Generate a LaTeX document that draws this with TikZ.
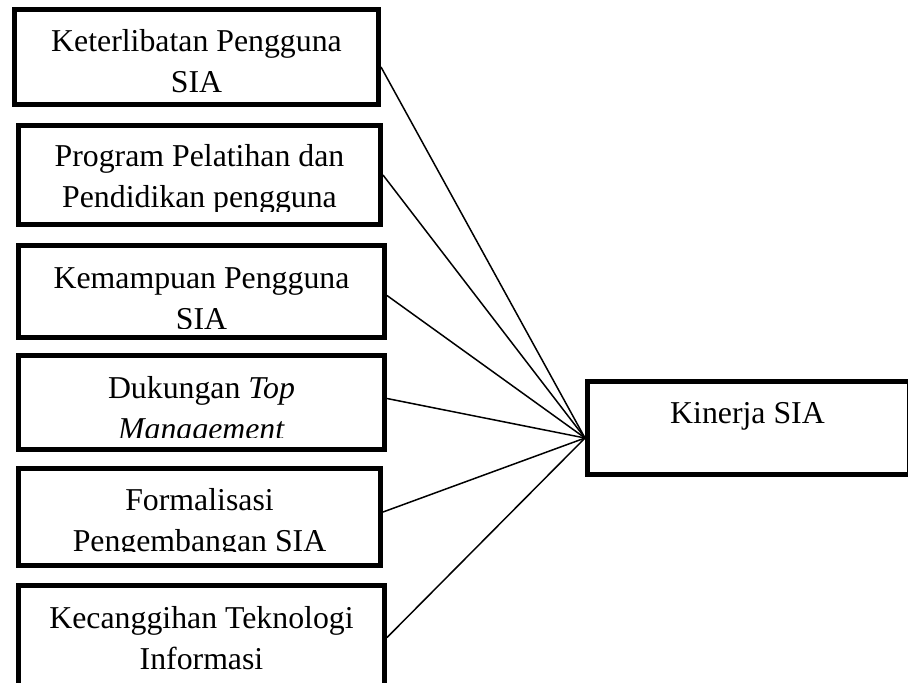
\documentclass[tikz,border=0pt]{standalone}
\usepackage{fontspec}
\setmainfont{Liberation Serif}
\usepackage{tikz}
\usetikzlibrary{positioning,calc}
\tikzset{
  kbox/.style={rectangle,draw=black,line width=2.5pt,inner sep=0pt},
  klbl/.style={align=center,anchor=base,inner sep=0pt,
               font=\fontsize{15.9}{20.5}\selectfont,text=black},
  klink/.style={line width=0.75pt,draw=black},
}

\begin{document}
\begin{tikzpicture}[x=0.5pt,y=-0.5pt]
\useasboundingbox (0,0) rectangle (908,682);
% variabel independen
\node[kbox,minimum width=182pt,minimum height=47.5pt] (k1) at (196.5,57) {};
\node[klbl] (t1) at (196.5,92) {Keterlibatan Pengguna\\SIA};
\node[kbox,minimum width=181pt,minimum height=49.5pt] (k2) at (199.5,175) {};
\begin{scope}
\clip (18.5,125.5) rectangle (380.5,211);
\node[klbl] (t2) at (199.5,207) {Program Pelatihan dan\\Pendidikan pengguna};
\end{scope}
\node[kbox,minimum width=183pt,minimum height=46pt] (k3) at (201.5,291.5) {};
\begin{scope}
\clip (18.5,245.5) rectangle (384.5,328);
\node[klbl] (t3) at (201.5,329) {Kemampuan Pengguna\\SIA};
\end{scope}
\node[kbox,minimum width=183pt,minimum height=47pt] (k4) at (201.5,402.5) {};
\begin{scope}
\clip (18.5,355.5) rectangle (384.5,437);
\node[klbl] (t4) at (201.5,439) {Dukungan \textit{Top}\\\textit{Management}};
\end{scope}
\node[kbox,minimum width=181pt,minimum height=48.5pt] (k5) at (199.5,517) {};
\begin{scope}
\clip (18.5,468.5) rectangle (380.5,551);
\node[klbl] (t5) at (199.5,551) {Formalisasi\\Pengembangan SIA};
\end{scope}
\node[kbox,minimum width=183pt,minimum height=52pt] (k6) at (201.5,637.5) {};
\node[klbl] (t6) at (201.5,669) {Kecanggihan Teknologi\\Informasi};
% variabel dependen
\node[kbox,minimum width=161pt,minimum height=46.5pt] (kin) at (748.5,428) {};
\node[klbl] (tkin) at (747.5,423) {Kinerja SIA};
\coordinate (hub) at ([yshift=-5pt]kin.west);
\draw[klink] ([yshift=-5pt]k1.east) -- (hub);
\draw[klink] (k2.east) -- (hub);
\draw[klink] ([yshift=-2pt]k3.east) -- (hub);
\draw[klink] ([yshift=2pt]k4.east) -- (hub);
\draw[klink] ([yshift=2.5pt]k5.east) -- (hub);
\draw[klink] (k6.east) -- (hub);
\end{tikzpicture}
\end{document}
